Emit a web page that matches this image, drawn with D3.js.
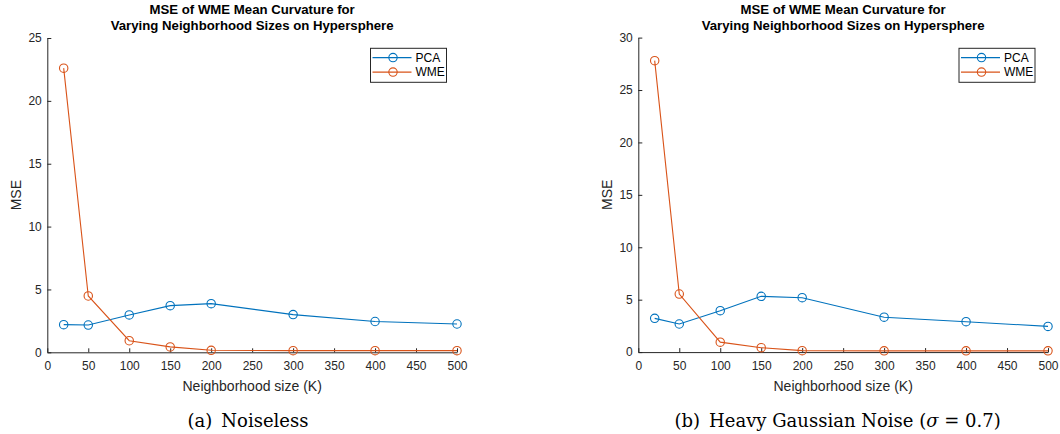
<!DOCTYPE html>
<html>
<head>
<meta charset="utf-8">
<script src="https://d3js.org/d3.v7.min.js"></script>
<style>
  html, body { margin: 0; padding: 0; background: #fff; }
  svg { display: block; }
</style>
</head>
<body>
<svg id="chart" width="1060" height="434"></svg>
<script>
// Neighborhood sizes K shared by both experiments
const neighborhoodSizes = [20, 50, 100, 150, 200, 300, 400, 500];

// Panel (a): noiseless
const pcaNoiseless = [2.2, 2.17, 2.97, 3.71, 3.87, 3.0, 2.45, 2.25];
const wmeNoiseless = [22.6, 4.48, 0.92, 0.43, 0.16, 0.13, 0.13, 0.13];

// Panel (b): heavy Gaussian noise
const pcaNoisy = [3.22, 2.68, 3.95, 5.32, 5.19, 3.33, 2.9, 2.45];
const wmeNoisy = [27.8, 5.54, 0.95, 0.42, 0.14, 0.12, 0.12, 0.12];

const xTicks = [0, 50, 100, 150, 200, 250, 300, 350, 400, 450, 500];
const yTicksA = [0, 5, 10, 15, 20, 25];
const yTicksB = [0, 5, 10, 15, 20, 25, 30];

const seriesNames = ["PCA", "WME"];
const seriesColors = ["#0072BD", "#D95319"];

const titleLines = ["MSE of WME Mean Curvature for", "Varying Neighborhood Sizes on Hypersphere"];
const xLabel = "Neighborhood size (K)";
const yLabel = "MSE";

const axisColor = "#262626";
const sansFont = "'Liberation Sans', Arial, Helvetica, sans-serif";
const serifFont = "'DejaVu Serif', 'Liberation Serif', serif";

const svg = d3.select("#chart");

function drawPanel(opts) {
  const { left, right, top, bottom, yMax, yTicks, series, caption, legendLeft } = opts;
  const g = svg.append("g");
  const cx = (left + right) / 2;

  const x = d3.scaleLinear().domain([0, 500]).range([left, right]);
  const y = d3.scaleLinear().domain([0, yMax]).range([bottom, top]);

  // x axis with ticks pointing inward (up)
  const xAxis = g.append("g")
    .attr("transform", `translate(0,${bottom})`)
    .call(d3.axisBottom(x).tickValues(xTicks).tickSizeInner(-4).tickSizeOuter(0).tickPadding(9.3));
  // y axis with ticks pointing inward (right)
  const yAxis = g.append("g")
    .attr("transform", `translate(${left},0)`)
    .call(d3.axisLeft(y).tickValues(yTicks).tickSizeInner(-4).tickSizeOuter(0).tickPadding(5.5));

  [xAxis, yAxis].forEach(a => {
    a.select(".domain").attr("stroke", axisColor).attr("stroke-width", 1);
    a.selectAll(".tick line").attr("stroke", axisColor).attr("stroke-width", 1);
    a.selectAll(".tick text")
      .attr("fill", axisColor)
      .style("font-family", sansFont)
      .style("font-size", "12px");
  });

  // two-line bold title
  const title = g.append("text")
    .attr("text-anchor", "middle")
    .style("font-family", sansFont)
    .style("font-size", "13.2px")
    .style("font-weight", "bold")
    .attr("fill", "#000");
  titleLines.forEach((t, i) => {
    title.append("tspan").attr("x", cx).attr("y", 13.5 + i * 16).text(t);
  });

  // axis labels
  g.append("text")
    .attr("x", cx)
    .attr("y", 391)
    .attr("text-anchor", "middle")
    .style("font-family", sansFont)
    .style("font-size", "14px")
    .attr("fill", axisColor)
    .text(xLabel);

  g.append("text")
    .attr("transform", `translate(${left - 26.6},${(top + bottom) / 2}) rotate(-90)`)
    .attr("text-anchor", "middle")
    .style("font-family", sansFont)
    .style("font-size", "14px")
    .attr("fill", axisColor)
    .text(yLabel);

  // series lines with open circle markers
  const line = d3.line().x((d, i) => x(neighborhoodSizes[i])).y(d => y(d));
  series.forEach((vals, si) => {
    g.append("path")
      .datum(vals)
      .attr("d", line)
      .attr("fill", "none")
      .attr("stroke", seriesColors[si])
      .attr("stroke-width", 1.1);
    g.selectAll(null)
      .data(vals)
      .enter().append("circle")
      .attr("cx", (d, i) => x(neighborhoodSizes[i]))
      .attr("cy", d => y(d))
      .attr("r", 4.2)
      .attr("fill", "none")
      .attr("stroke", seriesColors[si])
      .attr("stroke-width", 1.1);
  });

  // legend box
  const lx = legendLeft, ly = 48.3, lw = 76, lh = 34;
  const legend = g.append("g");
  legend.append("rect")
    .attr("x", lx).attr("y", ly).attr("width", lw).attr("height", lh)
    .attr("fill", "#fff").attr("stroke", axisColor).attr("stroke-width", 1);
  seriesNames.forEach((name, i) => {
    const ry = ly + 9.3 + i * 14.5;
    legend.append("line")
      .attr("x1", lx + 2).attr("x2", lx + 41).attr("y1", ry).attr("y2", ry)
      .attr("stroke", seriesColors[i]).attr("stroke-width", 1.1);
    legend.append("circle")
      .attr("cx", lx + 22.5).attr("cy", ry).attr("r", 4.2)
      .attr("fill", "none").attr("stroke", seriesColors[i]).attr("stroke-width", 1.1);
    legend.append("text")
      .attr("x", lx + 45).attr("y", ry + 4.3)
      .style("font-family", sansFont)
      .style("font-size", "12px")
      .attr("fill", "#000")
      .text(name);
  });

  // caption under the panel
  const cap = g.append("text")
    .attr("x", opts.captionX)
    .attr("y", 426.5)
    .attr("text-anchor", "middle")
    .style("font-family", serifFont)
    .style("font-size", "18px")
    .attr("fill", "#000");
  caption(cap);
}

drawPanel({
  left: 47.3, right: 457, top: 38, bottom: 352.3,
  yMax: 25, yTicks: yTicksA,
  series: [pcaNoiseless, wmeNoiseless],
  legendLeft: 370.5,
  captionX: 248,
  caption: t => t.text("(a)\u2002Noiseless")
});

drawPanel({
  left: 638.3, right: 1048, top: 37.6, bottom: 352.1,
  yMax: 30, yTicks: yTicksB,
  series: [pcaNoisy, wmeNoisy],
  legendLeft: 959,
  captionX: 837.6,
  caption: t => {
    t.append("tspan").text("(b)\u2002Heavy Gaussian Noise (");
    t.append("tspan").style("font-style", "italic").text("\u03C3");
    t.append("tspan").text(" = 0.7)");
  }
});
</script>
</body>
</html>
